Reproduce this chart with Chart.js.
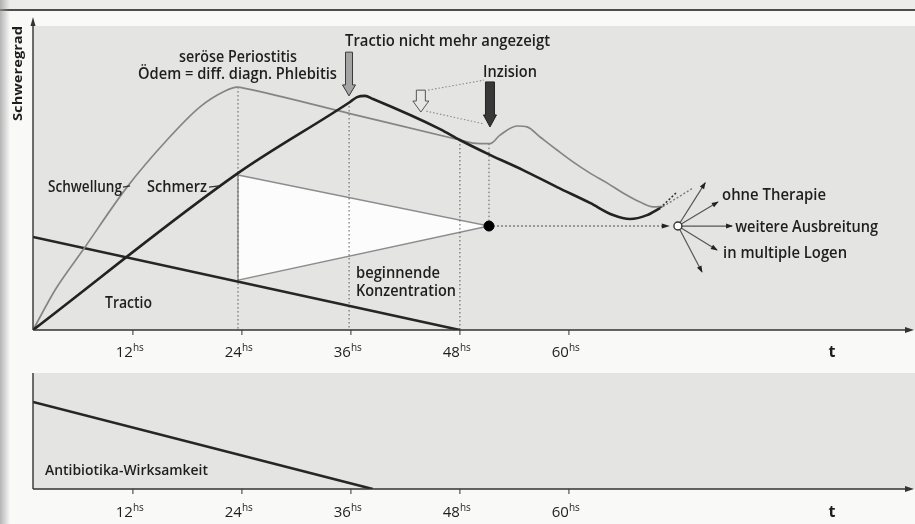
<!DOCTYPE html>
<html>
<head>
<meta charset="utf-8">
<script src="https://cdn.jsdelivr.net/npm/chart.js@4.4.0/dist/chart.umd.min.js"></script>
<style>
  html, body { margin: 0; padding: 0; background: #f9f9f8; }
  #wrap { position: relative; width: 915px; height: 524px; overflow: hidden; }
  canvas { position: absolute; left: 0; }
  #top { top: 0; }
  #bottom { top: 372px; }
</style>
</head>
<body>
<div id="wrap">
  <canvas id="top" width="915" height="372"></canvas>
  <canvas id="bottom" width="915" height="152"></canvas>
</div>
<script>
// x = hours, y = Schweregrad (0..100)
var hourTicks = [12, 24, 36, 48, 60];

var schwellung = [[1, 0], [3.5, 13.5], [6.5, 26.3], [11.35, 47.0], [15.75, 62.5], [19.39, 73.4],
  [22.14, 78.6], [23.46, 79.9], [24.6, 79.3], [36, 71.1], [48, 62.5], [49.44, 61.5], [51.31, 61.3],
  [52.41, 64.1], [54.29, 67.1], [55.39, 66.8], [56.82, 63.5], [58.69, 59.2], [60.45, 55.3],
  [62.32, 51.6], [64.19, 48.4], [65.96, 45.1], [67.83, 42.1], [69.26, 40.5], [70.36, 40.6]];
var schwellungDashed = [[70.36, 40.6], [73.66, 46.7]];

var schmerz = [[1, 0], [23.57, 51.6], [35.9, 75.0], [36.67, 76.6], [37.55, 77.0], [38.43, 76.0],
  [45.81, 66.1], [48, 62.5], [51.31, 57.6], [54.95, 52.6], [58.69, 47.0], [62.32, 41.8],
  [64.86, 37.8], [66.73, 36.5], [68.6, 37.8], [70.03, 40.1]];
var schmerzDashed = [[70.03, 40.1], [71.9, 45.4]];

var tractio = [[1, 30.6], [48, 0]];
var konzentration = [[23.57, 51.0], [51.2, 34.2], [23.57, 16.4], [23.57, 51.0]];
var herd = [[51.2, 34.2]];
var ausbreitung = [[51.2, 34.2], [71.0, 34.2]];
var verzweigung = [[72.0, 34.2]];
var strahlen = [[75.0, 48.4], [76.4, 42.1], [77.96, 34.2], [76.3, 26.3], [74.65, 19.1]];
var senkrechten = [[23.57, 79.9, 0], [35.8, 75.0, 0], [48, 62.5, 0], [51.2, 61.3, 34.2]];
var antibiotika = [[1, 75], [38.4, 0]];

// labels inside the top panel (x in hours, y in Schweregrad, w = text width in px)
var textTop = [
  ['seröse Periostitis', 17.07, 88.2, 118],
  ['Ödem = diff. diagn. Phlebitis', 12.56, 82.6, 199],
  ['Tractio nicht mehr angezeigt', 35.35, 93.4, 205],
  ['Inzision', 50.54, 83.2, 54],
  ['Schwellung', 2.65, 45.4, 74],
  ['Schmerz', 13.55, 45.4, 60],
  ['Tractio', 8.93, 7.24, 47],
  ['beginnende', 36.56, 17.1, 84],
  ['Konzentration', 36.56, 11.2, 100],
  ['ohne Therapie', 76.86, 42.8, 104],
  ['weitere Ausbreitung', 78.3, 32.2, 143],
  ['in multiple Logen', 76.97, 23.7, 124]
];
var textBottom = [['Antibiotika-Wirksamkeit', 2.32, 12.1, 163]];

var INK = '#1e1e1e';
var FONT = '"Open Sans", "Noto Sans", sans-serif';

function pts(arr) {
  return arr.map(function(p) { return {x: p[0], y: p[1]}; });
}

function line(data, color, width, extra) {
  var ds = {
    type: 'line', data: pts(data), borderColor: color, borderWidth: width,
    pointRadius: 0, fill: false, tension: 0, order: 5
  };
  for (var k in extra) ds[k] = extra[k];
  return ds;
}

function fitText(ctx, text, x, y, w, font) {
  ctx.font = font;
  var nat = ctx.measureText(text).width;
  ctx.save();
  ctx.translate(x, y);
  ctx.scale(w / nat, 1);
  ctx.fillStyle = INK;
  ctx.textAlign = 'left';
  ctx.textBaseline = 'alphabetic';
  ctx.fillText(text, 0, 0);
  ctx.restore();
}

function head(ctx, x0, y0, x1, y1, len, wid, color) {
  var a = Math.atan2(y1 - y0, x1 - x0);
  ctx.save();
  ctx.translate(x1, y1);
  ctx.rotate(a);
  ctx.beginPath();
  ctx.moveTo(1, 0);
  ctx.lineTo(-len, wid / 2);
  ctx.lineTo(-len, -wid / 2);
  ctx.closePath();
  ctx.fillStyle = color;
  ctx.fill();
  ctx.restore();
}

function blockArrow(ctx, x, yTop, yTip, shaft, hw, hl, fill, stroke) {
  var s = shaft / 2, h = hw / 2, yh = yTip - hl;
  ctx.beginPath();
  ctx.moveTo(x - s, yTop); ctx.lineTo(x + s, yTop); ctx.lineTo(x + s, yh);
  ctx.lineTo(x + h, yh); ctx.lineTo(x, yTip); ctx.lineTo(x - h, yh);
  ctx.lineTo(x - s, yh); ctx.closePath();
  ctx.fillStyle = fill; ctx.fill();
  ctx.strokeStyle = stroke; ctx.lineWidth = 1; ctx.stroke();
}

// axes, background and tick labels, drawn from the chart's own scales
function panelPlugin(opts) {
  return {
    id: 'panel',
    beforeDraw: function(chart) {
      var ctx = chart.ctx, a = chart.chartArea;
      ctx.save();
      ctx.fillStyle = '#e4e4e3';
      ctx.fillRect(a.left, opts.bgTop, chart.width - a.left, a.bottom - opts.bgTop);
      if (opts.header) {
        ctx.fillStyle = '#ececeb';
        ctx.fillRect(0, 0, chart.width, 9);
        ctx.fillStyle = '#4d4d4d';
        ctx.fillRect(0, 9, chart.width, 2);
      }
      var g = ctx.createLinearGradient(0, 0, 10, 0);
      g.addColorStop(0, 'rgba(150,150,150,0.7)');
      g.addColorStop(1, 'rgba(150,150,150,0)');
      ctx.fillStyle = g;
      ctx.fillRect(0, 0, 10, chart.height);
      ctx.restore();
    },
    afterDraw: function(chart) {
      var ctx = chart.ctx, a = chart.chartArea, xs = chart.scales.x;
      ctx.save();
      ctx.strokeStyle = '#333';
      ctx.lineWidth = 1.4;
      ctx.beginPath();
      ctx.moveTo(a.left, a.bottom); ctx.lineTo(908, a.bottom);
      ctx.moveTo(a.left, a.bottom); ctx.lineTo(a.left, opts.yAxisTop);
      ctx.stroke();
      head(ctx, a.left, a.bottom, 913, a.bottom, 8, 6, '#333');
      if (opts.yArrow) head(ctx, a.left, a.bottom, a.left, opts.yAxisTop - 4, 8, 5, '#333');
      hourTicks.forEach(function(h) {
        var px = xs.getPixelForValue(h);
        ctx.beginPath();
        ctx.moveTo(px, a.bottom); ctx.lineTo(px, a.bottom + 5);
        ctx.lineWidth = 1; ctx.stroke();
        ctx.fillStyle = INK;
        ctx.font = '15px ' + FONT;
        ctx.textAlign = 'right';
        ctx.fillText(String(h), px, opts.tickBase);
        ctx.font = '10px ' + FONT;
        ctx.textAlign = 'left';
        ctx.fillText('hs', px, opts.tickBase - 6);
      });
      ctx.font = 'bold 16px ' + FONT;
      ctx.textAlign = 'center';
      ctx.fillText('t', 832, opts.tickBase);
      if (opts.yTitle) {
        ctx.save();
        ctx.translate(18, 74);
        ctx.rotate(-Math.PI / 2);
        fitText(ctx, 'Schweregrad', -47, 4, 95, 'bold 12px ' + FONT);
        ctx.restore();
      }
      opts.texts.forEach(function(t) {
        fitText(ctx, t[0], xs.getPixelForValue(t[1]), chart.scales.y.getPixelForValue(t[2]), t[3], opts.font);
      });
      if (opts.extra) opts.extra(chart, ctx);
      ctx.restore();
    }
  };
}

function topExtras(chart, ctx) {
  var xs = chart.scales.x, ys = chart.scales.y;
  function X(v) { return xs.getPixelForValue(v); }
  function Y(v) { return ys.getPixelForValue(v); }
  // leader strokes from the labels to their curves
  ctx.strokeStyle = '#333'; ctx.lineWidth = 1.2;
  ctx.beginPath();
  ctx.moveTo(X(10.9), Y(47.0)); ctx.lineTo(X(11.68), Y(47.4));
  ctx.moveTo(X(20.38), Y(47.0)); ctx.lineTo(X(21.48), Y(47.4));
  ctx.stroke();
  // arrowheads
  head(ctx, X(ausbreitung[0][0]), Y(34.2), X(ausbreitung[1][0]), Y(34.2), 7, 5, '#222');
  var c = verzweigung[0];
  strahlen.forEach(function(p) {
    head(ctx, X(c[0]), Y(c[1]), X(p[0]), Y(p[1]), 6, 5, '#222');
  });
  // block arrows
  blockArrow(ctx, X(35.79), Y(91.4), Y(77.0), 7, 13, 11, '#a4a4a4', '#3a3a3a');
  blockArrow(ctx, X(43.7), Y(78.9), Y(71.7), 9, 16, 11, '#e6e6e6', '#555');
  blockArrow(ctx, X(51.31), Y(81.6), Y(66.8), 9, 13, 12, '#383838', '#222');
}

var topSets = [
  line(konzentration, '#8c8c8c', 1.4, {fill: 'shape', backgroundColor: '#fcfcfc', order: 20}),
  line(ausbreitung, '#777', 1.4, {borderDash: [2, 2], order: 8}),
  line([[44.5, 78.9], [50.65, 82.2]], '#8a8a8a', 1.1, {borderDash: [1.5, 2], order: 8}),
  line([[44.3, 72.0], [50.65, 67.8]], '#8a8a8a', 1.1, {borderDash: [1.5, 2], order: 8}),
  line(tractio, '#262626', 2.6, {order: 4}),
  line(schwellung, '#858585', 1.7, {cubicInterpolationMode: 'monotone', order: 3}),
  line(schwellungDashed, '#7a7a7a', 1.4, {borderDash: [2, 2], order: 3}),
  line(schmerz, '#222', 2.6, {cubicInterpolationMode: 'monotone', order: 2}),
  line(schmerzDashed, '#333', 1.6, {borderDash: [2, 2], order: 2}),
  line(herd, '#000', 1, {pointRadius: 5, pointBackgroundColor: '#000', showLine: false, order: 1}),
  line(verzweigung, '#333', 1.4, {pointRadius: 4, pointBackgroundColor: '#fff', showLine: false, order: 0})
];
senkrechten.forEach(function(s) {
  topSets.push(line([[s[0], s[1]], [s[0], s[2]]], '#5a5a5a', 1, {borderDash: [1.5, 2.5], order: 10}));
});
strahlen.forEach(function(p) {
  topSets.push(line([verzweigung[0], p], '#555', 1.2, {order: 6}));
});

function baseOptions(pad) {
  return {
    responsive: false, animation: false, devicePixelRatio: 1,
    layout: {padding: pad},
    plugins: {legend: {display: false}, tooltip: {enabled: false}},
    scales: {
      x: {type: 'linear', min: 1, max: 97, display: false},
      y: {type: 'linear', min: 0, max: 100, display: false}
    }
  };
}

new Chart(document.getElementById('top'), {
  type: 'line',
  data: {datasets: topSets},
  options: baseOptions({left: 33, right: 10, top: 26, bottom: 42}),
  plugins: [panelPlugin({
    bgTop: 26, header: true, yAxisTop: 22, yArrow: true, tickBase: 357, yTitle: true,
    texts: textTop, font: '600 17px ' + FONT, extra: topExtras
  })]
});

new Chart(document.getElementById('bottom'), {
  type: 'line',
  data: {datasets: [line(antibiotika, '#262626', 2.6)]},
  options: baseOptions({left: 33, right: 10, top: 1, bottom: 35}),
  plugins: [panelPlugin({
    bgTop: 1, header: false, yAxisTop: 1, yArrow: false, tickBase: 145, yTitle: false,
    texts: textBottom, font: '600 15px ' + FONT
  })]
});
</script>
</body>
</html>
